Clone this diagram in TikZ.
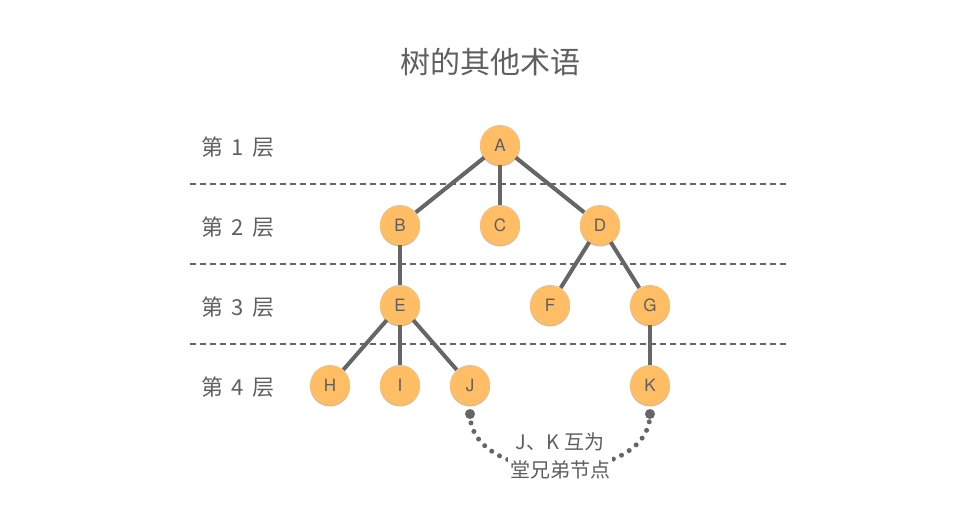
\documentclass[tikz,border=0pt]{standalone}
\usepackage{fontspec}
\setmainfont{Noto Sans CJK SC}
\newfontfamily\latinsans{TeX Gyre Heros}
\usetikzlibrary{shadows}
\definecolor{nodeor}{HTML}{FFBE66}
\definecolor{txtgray}{HTML}{5F5F5F}
\definecolor{linegray}{HTML}{666666}
\newcommand{\lyr}[1]{第\hspace{8pt}#1\hspace{8pt}层}
\tikzset{
  tnode/.style={circle, fill=nodeor, minimum size=40pt, inner sep=0pt, text=txtgray,
    font=\latinsans\fontsize{17}{17}\selectfont,
    drop shadow={shadow xshift=0pt, shadow yshift=-1.5pt, opacity=0.25, fill=black}},
  tedge/.style={draw=linegray, line width=4pt},
  layerline/.style={draw=linegray, line width=1.3pt, dash pattern=on 6pt off 4pt},
  layerlbl/.style={text=txtgray, font=\fontsize{22}{22}\selectfont},
  enddot/.style={circle, fill=linegray, minimum size=10pt, inner sep=0pt},
  dotcurve/.style={draw=linegray, line width=5pt, line cap=round, dash pattern=on 0pt off 9pt},
}
\begin{document}
\begin{tikzpicture}[x=1pt,y=-1pt]
\useasboundingbox (0,0) rectangle (980,526);
\node[text=txtgray, font=\fontsize{30}{30}\selectfont] (title) at (490,62) {树的其他术语};
% layer lines
\coordinate (l1a) at (190,184); \coordinate (l1b) at (786,184);
\coordinate (l2a) at (190,264); \coordinate (l2b) at (786,264);
\coordinate (l3a) at (190,344); \coordinate (l3b) at (786,344);
\draw[layerline] (l1a) -- (l1b);
\draw[layerline] (l2a) -- (l2b);
\draw[layerline] (l3a) -- (l3b);
% layer labels
\node[layerlbl] (ly1) at (238,147) {\lyr{1}};
\node[layerlbl] (ly2) at (238,227) {\lyr{2}};
\node[layerlbl] (ly3) at (238,307) {\lyr{3}};
\node[layerlbl] (ly4) at (238,387) {\lyr{4}};
% nodes
\node[tnode] (A) at (500,145) {A};
\node[tnode] (B) at (400,225) {B};
\node[tnode] (C) at (500,225) {C};
\node[tnode] (D) at (600,225) {D};
\node[tnode] (E) at (400,305) {E};
\node[tnode] (F) at (550,305) {F};
\node[tnode] (G) at (650,305) {G};
\node[tnode] (H) at (330,385) {H};
\node[tnode] (I) at (400,385) {I};
\node[tnode] (J) at (470,385) {J};
\node[tnode] (K) at (650,385) {K};
% edges
\draw[tedge] (A) -- (B);
\draw[tedge] (A) -- (C);
\draw[tedge] (A) -- (D);
\draw[tedge] (B) -- (E);
\draw[tedge] (D) -- (F);
\draw[tedge] (D) -- (G);
\draw[tedge] (E) -- (H);
\draw[tedge] (E) -- (I);
\draw[tedge] (E) -- (J);
\draw[tedge] (G) -- (K);
% sibling connector
\node[enddot] (jd) at (470,414) {};
\node[enddot] (kd) at (650,414) {};
\draw[dotcurve] (jd.center) .. controls (470,487) and (650,487) .. (kd.center);
\node[fill=white, inner sep=2pt, text=txtgray, align=center,
  font=\fontsize{20}{28}\selectfont] (sib) at (560,456) {J、K 互为\\堂兄弟节点};
\end{tikzpicture}
\end{document}
